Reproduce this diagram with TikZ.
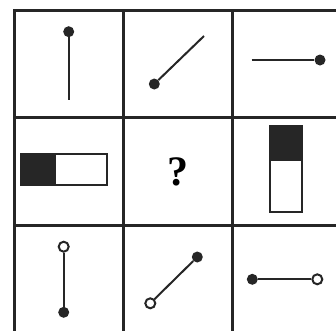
\documentclass[tikz,border=0pt]{standalone}
\usepackage{fontspec}
\setmainfont{Liberation Serif}
\usepackage{tikz}

\begin{document}
\begin{tikzpicture}[x=1pt,y=-1pt, line join=miter,
    grid/.style={line width=3pt,black!85},
    seg/.style={line width=2pt,black!85},
    fulldot/.style={circle,fill=black!85,inner sep=0pt,minimum size=11pt},
    opendot/.style={circle,draw=black!85,fill=white,line width=2pt,inner sep=0pt,minimum size=10pt},
    bar/.style={draw=black!85,line width=2pt,fill=white}]
    \clip (0,0) rectangle (336,330);
    \fill[white] (0,0) rectangle (336,330);
    % grid
    \draw[grid] (14,10) rectangle (341,334);
    \draw[grid] (123,10) -- (123,334);
    \draw[grid] (232,10) -- (232,334);
    \draw[grid] (14,117) -- (341,117);
    \draw[grid] (14,225) -- (341,225);
    % top row
    \node[fulldot] (a1) at (68.7,31.7) {};
    \coordinate (a2) at (68.7,99.5);
    \draw[seg] (a1) -- (a2);
    \node[fulldot] (b1) at (154.3,84) {};
    \coordinate (b2) at (204,36);
    \draw[seg] (b1) -- (b2);
    \coordinate (c1) at (251.7,60);
    \node[fulldot] (c2) at (320,60) {};
    \draw[seg] (c1) -- (c2);
    % middle row
    \fill[black!85] (21,154) rectangle (55.7,185.3);
    \draw[bar,fill=none] (21,154) rectangle (107.3,185.3);
    \node[font=\fontsize{42}{42}\selectfont\bfseries] (q) at (177.7,171.7) {?};
    \fill[black!85] (270,126) rectangle (302.3,160.7);
    \draw[bar,fill=none] (270,126) rectangle (302.3,212.3);
    % bottom row
    \node[opendot] (d1) at (63.7,246.7) {};
    \node[fulldot] (d2) at (63.7,312.3) {};
    \draw[seg] (d1) -- (d2);
    \node[opendot] (e1) at (150.3,303.3) {};
    \node[fulldot] (e2) at (197.3,257) {};
    \draw[seg] (e1) -- (e2);
    \node[fulldot] (f1) at (252.3,279.3) {};
    \node[opendot] (f2) at (317.3,279.3) {};
    \draw[seg] (f1) -- (f2);
\end{tikzpicture}
\end{document}
